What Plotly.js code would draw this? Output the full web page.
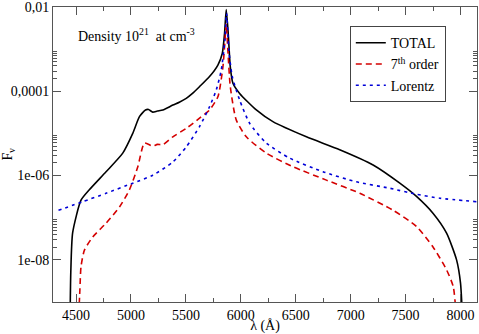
<!DOCTYPE html>
<html>
<head>
<meta charset="utf-8">
<script src="https://cdn.plot.ly/plotly-3.0.1.min.js"></script>
<style>
  html, body { margin: 0; padding: 0; background: #fff; }
  #plot { width: 479px; height: 334px; }
</style>
</head>
<body>
<div id="plot"></div>
<script>
// TOTAL (black solid)
var totalLambda = [4445, 4452, 4469, 4545, 4621, 4773, 4925, 5016, 5077, 5132, 5160, 5198, 5240, 5290,
  5381, 5440, 5503, 5560, 5624, 5715, 5791, 5831, 5852, 5867, 5885, 5904, 5928, 5989, 6141, 6292,
  6597, 6900, 7204, 7447, 7599, 7751, 7873, 7964, 8000, 8020];
var totalF = [3e-10, 5e-9, 4.4e-8, 2.6e-7, 4.6e-7, 1.23e-6, 3.4e-6, 1.0e-5, 2.5e-5, 3.6e-5, 3.7e-5, 3.2e-5, 3.4e-5, 3.6e-5,
  4.7e-5, 5.5e-5, 6.8e-5, 8.9e-5, 1.29e-4, 2.24e-4, 4.2e-4, 7.9e-4, 2.4e-3, 8.7e-3, 2.4e-3, 3.8e-4, 1.55e-4, 8.9e-5, 3.6e-5, 1.9e-5,
  8.3e-6, 4.1e-6, 1.78e-6, 6.6e-7, 3.2e-7, 1.26e-7, 4.3e-8, 1.0e-8, 2.8e-9, 3e-10];

// 7th order (red dashed)
var orderLambda = [4521, 4535, 4545, 4576, 4652, 4773, 4895, 4986, 5062, 5123, 5198, 5240, 5290, 5381,
  5503, 5624, 5715, 5791, 5837, 5858, 5867, 5882, 5904, 5958, 6050, 6232, 6475, 6779, 7083, 7386,
  7599, 7751, 7873, 7934, 7966];
var orderF = [3e-10, 2e-9, 6.9e-9, 1.7e-8, 3.5e-8, 7.4e-8, 1.8e-7, 4.6e-7, 1.62e-6, 5.9e-6, 5.0e-6, 5.5e-6, 5.4e-6, 8.3e-6,
  1.32e-5, 2.3e-5, 3.6e-5, 7.4e-5, 3.8e-4, 2.0e-3, 4.0e-3, 9.5e-4, 1.29e-4, 2.1e-5, 8.3e-6, 3.4e-6, 1.62e-6, 7.8e-7, 3.8e-7, 1.5e-7,
  6.2e-8, 2.0e-8, 5.8e-9, 2.3e-9, 3e-10];

// Lorentz (blue dotted)
var lorentzLambda = [4340, 4561, 4773, 5016, 5198, 5381, 5503, 5624, 5715, 5776, 5822, 5855, 5870, 5891,
  5922, 5989, 6080, 6232, 6444, 6748, 7052, 7356, 7599, 7812, 8146];
var lorentzF = [1.5e-7, 2.4e-7, 3.8e-7, 6.6e-7, 1.02e-6, 2.1e-6, 4.8e-6, 1.45e-5, 4.3e-5, 1.07e-4, 3.2e-4, 1.66e-3, 7.1e-3, 9.5e-4,
  2.24e-4, 6.2e-5, 1.74e-5, 5.9e-6, 2.6e-6, 1.23e-6, 7.1e-7, 5.0e-7, 3.6e-7, 2.9e-7, 2.4e-7];

var yTickVals = [1e-2, 1e-4, 1e-6, 1e-8];
var yTickText = ["0,01", "0,0001", "1e-06", "1e-08"];
var yMinorVals = [];
[1e-4, 1e-6, 1e-8].forEach(function (d) {
  for (var k = 2; k <= 9; k++) yMinorVals.push(k * d);
});

var font = "Times New Roman, Liberation Serif, DejaVu Serif, serif";

var data = [
  { x: totalLambda, y: totalF, name: "TOTAL", type: "scatter", mode: "lines",
    line: { color: "#000000", width: 1.6, shape: "spline", smoothing: 0.6 } },
  { x: orderLambda, y: orderF, name: "7<sup>th</sup> order", type: "scatter", mode: "lines",
    line: { color: "#d40000", width: 1.6, dash: "6px,4px", shape: "spline", smoothing: 0.6 } },
  { x: lorentzLambda, y: lorentzF, name: "Lorentz", type: "scatter", mode: "lines",
    line: { color: "#0000d8", width: 1.6, dash: "3px,4px", shape: "spline", smoothing: 0.6 } }
];

var layout = {
  width: 479, height: 334,
  margin: { l: 53, r: 2, t: 7, b: 32 },
  paper_bgcolor: "#ffffff", plot_bgcolor: "#ffffff",
  font: { family: font, size: 14, color: "#000" },
  showlegend: true,
  legend: {
    x: 0.70, y: 0.935, xanchor: "left", yanchor: "top",
    bordercolor: "#444", borderwidth: 1, bgcolor: "#ffffff",
    font: { family: font, size: 14 }, itemwidth: 30, tracegroupgap: 0
  },
  xaxis: {
    range: [4290, 8150], showgrid: false, zeroline: false,
    showline: true, linecolor: "#555", linewidth: 1, mirror: "ticks",
    ticks: "inside", ticklen: 8, tickcolor: "#555",
    tick0: 4500, dtick: 500,
    minor: { ticks: "inside", ticklen: 4, tickcolor: "#555", dtick: 250, tick0: 4250 },
    tickfont: { family: font, size: 14 },
    title: { text: "λ (Å)", font: { family: font, size: 14 }, standoff: 1 }
  },
  yaxis: {
    type: "log", range: [-9, -2], showgrid: false, zeroline: false,
    showline: true, linecolor: "#555", linewidth: 1, mirror: "ticks",
    ticks: "inside", ticklen: 8, tickcolor: "#555",
    tickmode: "array", tickvals: yTickVals, ticktext: yTickText,
    ticklabeloverflow: "allow",
    minor: { ticks: "inside", ticklen: 4, tickcolor: "#555", tickmode: "array", tickvals: yMinorVals },
    tickfont: { family: font, size: 14 },
    title: { text: "F<sub>ν</sub>", font: { family: font, size: 14 }, standoff: 2 }
  },
  annotations: [{
    xref: "paper", yref: "paper", x: 0.054, y: 0.905, xanchor: "left", yanchor: "middle",
    text: "Density 10<sup>21</sup>  at cm<sup>-3</sup>", showarrow: false,
    font: { family: font, size: 14, color: "#000" }
  }]
};

Plotly.newPlot("plot", data, layout, { displayModeBar: false, staticPlot: true });
</script>
</body>
</html>
